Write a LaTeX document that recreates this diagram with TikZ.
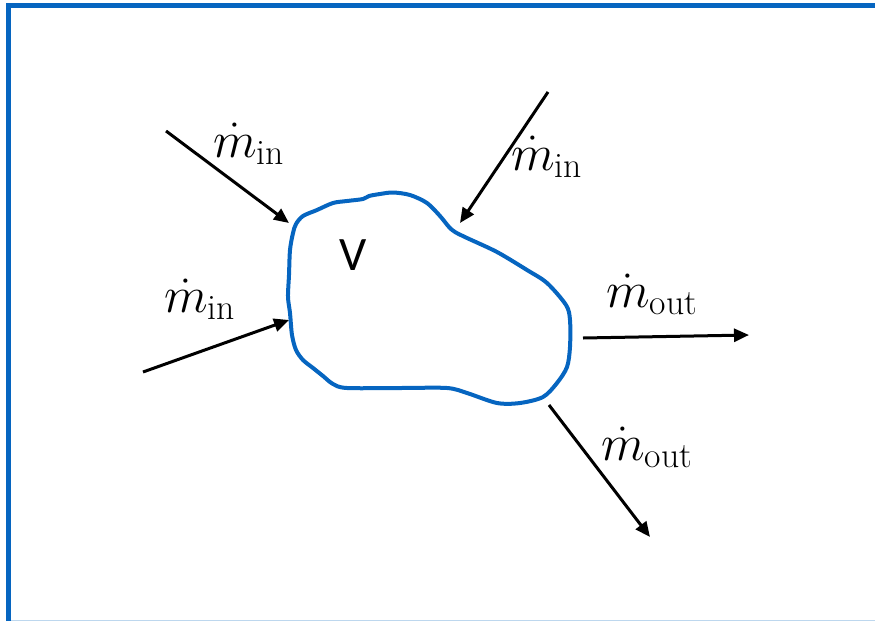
\RequirePackage{fix-cm}
\documentclass[tikz,border=0pt]{standalone}
\usepackage{fontspec}
\newfontfamily\carl{Carlito}
\usetikzlibrary{arrows.meta}
\definecolor{frameblue}{RGB}{6,101,192}
\definecolor{paleblue}{RGB}{189,215,238}
\tikzset{
  flow/.style={line width=3pt, draw=black, -{Triangle[length=15pt,width=13pt]}},
  lbl/.style={anchor=base west, inner sep=0pt, font=\fontsize{51}{60}\selectfont},
  blob/.style={draw=frameblue, line width=4pt},
}
\begin{document}
\begin{tikzpicture}[x=1pt,y=-1pt]
\useasboundingbox (0,0) rectangle (875,621);
% frame
\draw[frameblue, line width=5pt] (8.5,621) -- (8.5,5.5) -- (875,5.5);
\draw[paleblue, line width=1.2pt] (11,620.4) -- (875,620.4);
% control volume
\draw[blob] plot[smooth cycle, tension=0.5] coordinates {
 (293,233) (290,250) (289,275) (288,297) (290,313) (292,335) (296,350) (303,360)
 (313,368) (323,376) (333,384) (347,388) (400,388) (447,388) (467,393)
 (497,403) (520,403) (543,397) (557,383) (567,367) (570,347) (570,320)
 (566,305) (547,283) (527,270) (497,252) (467,238) (455,232) (449,227)
 (440,216) (427,203) (410,195) (393,192.5) (380,194) (369,196) (363,199)
 (347,201) (333,203) (317,210) (303,216) (296,224)};
\node[font=\carl\fontsize{48}{56}\selectfont, anchor=base west, inner sep=0pt] (V) at (339,270) {V};
% arrows
\coordinate (a1s) at (166,131); \coordinate (a1e) at (289,223);
\coordinate (a2s) at (548,92);  \coordinate (a2e) at (460,223);
\coordinate (a3s) at (143,372); \coordinate (a3e) at (289,320);
\coordinate (a4s) at (583,338); \coordinate (a4e) at (749,335);
\coordinate (a5s) at (549,405); \coordinate (a5e) at (650,537);
\draw[flow] (a1s) -- (a1e);
\draw[flow] (a2s) -- (a2e);
\draw[flow] (a3s) -- (a3e);
\draw[flow] (a4s) -- (a4e);
\draw[flow] (a5s) -- (a5e);
% labels
\node[lbl] (l1) at (213,157) {$\dot{m}_{\mathrm{in}}$};
\node[lbl] (l2) at (511,170) {$\dot{m}_{\mathrm{in}}$};
\node[lbl] (l3) at (164,312) {$\dot{m}_{\mathrm{in}}$};
\node[lbl] (l4) at (606,307) {$\dot{m}_{\mathrm{out}}$};
\node[lbl] (l5) at (601,460) {$\dot{m}_{\mathrm{out}}$};
\end{tikzpicture}
\end{document}
